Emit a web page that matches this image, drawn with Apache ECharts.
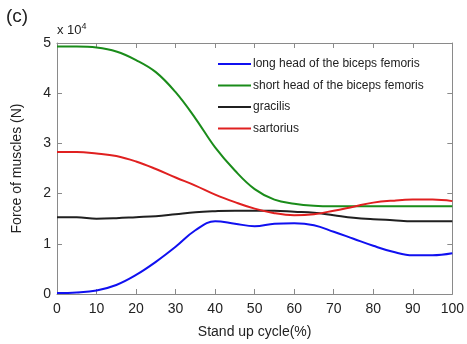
<!DOCTYPE html>
<html><head><meta charset="utf-8">
<script src="https://cdn.jsdelivr.net/npm/echarts@6/dist/echarts.min.js"></script>
<style>html,body{margin:0;padding:0;background:#fff}#c{width:467px;height:344px}</style>
</head><body><div id="c"></div>
<script>
// values in units of 10^4 N
const cycle = [0,5,10,15,20,25,30,35,40,45,50,55,60,65,70,75,80,85,90,95,100];
const longHead  = [0.02,0.03,0.07,0.18,0.38,0.64,0.94,1.27,1.45,1.40,1.35,1.40,1.41,1.37,1.24,1.10,0.96,0.84,0.77,0.77,0.81];
const shortHead = [4.93,4.93,4.91,4.83,4.66,4.42,4.02,3.50,2.92,2.46,2.09,1.88,1.80,1.76,1.75,1.75,1.75,1.75,1.75,1.75,1.75];
const gracilis  = [1.53,1.53,1.50,1.51,1.53,1.55,1.59,1.63,1.65,1.66,1.66,1.66,1.64,1.62,1.57,1.52,1.49,1.47,1.45,1.45,1.45];
const sartorius = [2.83,2.83,2.80,2.75,2.64,2.49,2.32,2.16,1.98,1.83,1.70,1.61,1.57,1.59,1.66,1.74,1.82,1.86,1.88,1.88,1.85];
const seriesNames = ['long head of the biceps femoris','short head of the biceps femoris','gracilis','sartorius'];
const seriesColors = ['#1010f0','#1a8c1a','#202020','#e02020'];
const xTicks = {min:0,max:100,interval:10};
const yTicks = {min:0,max:5,interval:1};

const chart = echarts.init(document.getElementById('c'));
const pair = arr => cycle.map((x,i)=>[x,arr[i]]);
const allData = [longHead, shortHead, gracilis, sartorius];
const font = 'Liberation Sans, Arial, sans-serif';
const axisBase = {
  axisLine:{show:true,onZero:false,lineStyle:{color:'#8a8a8a',width:1}},
  axisTick:{show:true,inside:true,length:5,lineStyle:{color:'#8a8a8a'}},
  splitLine:{show:false}
};
chart.setOption({
  animation:false,
  backgroundColor:'#fff',
  grid:{left:57,right:14,top:43,bottom:48,containLabel:false},
  graphic:[
    {type:'text',left:6,top:7,style:{text:'(c)',font:'19px '+font,fill:'#222'}},
    {type:'text',left:57,top:22,style:{text:'x 10{s|4}',font:'13px '+font,fill:'#222',
      rich:{s:{fontSize:9,verticalAlign:'top',padding:[0,0,8,0],fill:'#222'}}}}
  ],
  legend:{
    orient:'vertical',left:213,top:52,itemWidth:33,itemHeight:2,itemGap:7.5,icon:'rect',
    data:seriesNames,
    textStyle:{fontFamily:font,fontSize:12,color:'#222',padding:[0,0,0,-3],lineHeight:14}
  },
  xAxis:[
    Object.assign({type:'value',position:'bottom',min:xTicks.min,max:xTicks.max,interval:xTicks.interval,
      name:'Stand up cycle(%)',nameLocation:'middle',nameGap:31,
      nameTextStyle:{fontFamily:font,fontSize:14,color:'#222'},
      axisLabel:{fontFamily:font,fontSize:14,color:'#222',margin:8}},axisBase),
    Object.assign({type:'value',position:'top',min:xTicks.min,max:xTicks.max,interval:xTicks.interval,
      axisLabel:{show:false}},axisBase)
  ],
  yAxis:[
    Object.assign({type:'value',position:'left',min:yTicks.min,max:yTicks.max,interval:yTicks.interval,
      name:'Force of muscles (N)',nameLocation:'middle',nameGap:33,
      nameTextStyle:{fontFamily:font,fontSize:14,color:'#222'},
      axisLabel:{fontFamily:font,fontSize:14,color:'#222',margin:6}},axisBase),
    Object.assign({type:'value',position:'right',min:yTicks.min,max:yTicks.max,interval:yTicks.interval,
      axisLabel:{show:false}},axisBase)
  ],
  series: seriesNames.map((n,i)=>({
    name:n,type:'line',data:pair(allData[i]),smooth:0.4,symbol:'none',showSymbol:false,
    lineStyle:{color:seriesColors[i],width:2},itemStyle:{color:seriesColors[i]}
  }))
});
</script></body></html>
